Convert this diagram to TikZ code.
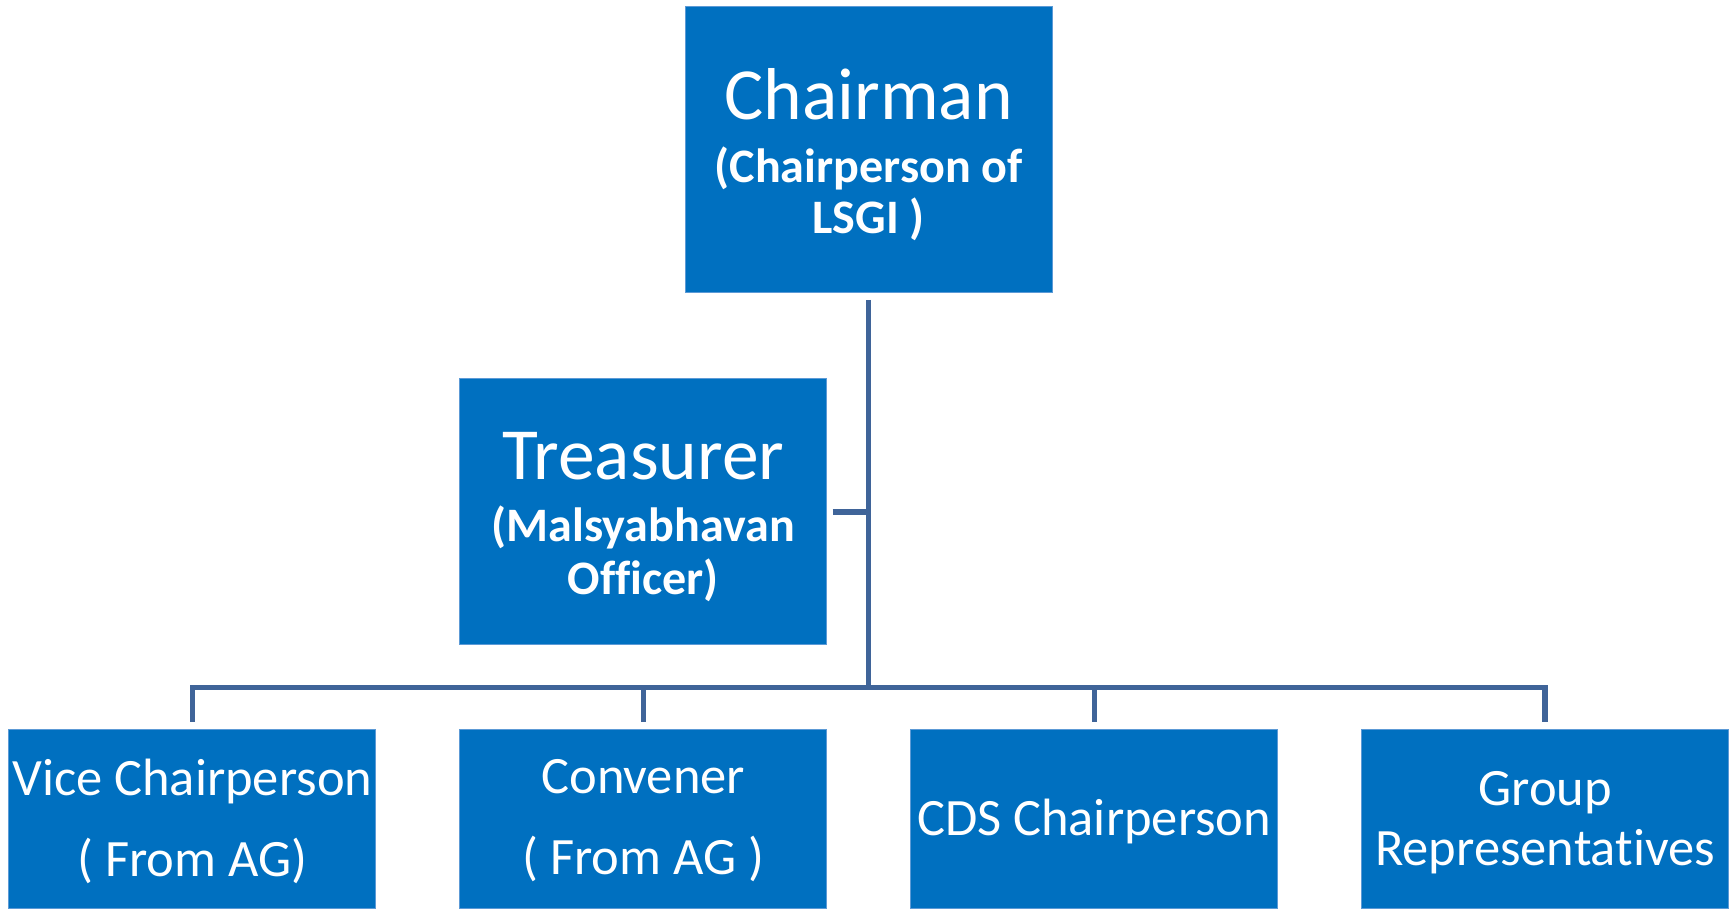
\documentclass[tikz,border=0pt]{standalone}
\usepackage{fontspec}
\setmainfont{Carlito}[Ligatures=CommonOff]
\definecolor{boxblue}{HTML}{0070C0}
\definecolor{linkblue}{HTML}{3F6499}
\definecolor{edgeblue}{HTML}{5C9AD6}
\newcommand{\subln}[1]{{\fontsize{43.5}{45}\selectfont\bfseries #1}}
\begin{document}
\begin{tikzpicture}[x=1pt,y=-1pt,
  orgbox/.style={rectangle,fill=boxblue,draw=edgeblue,line width=0.8pt,
    text=white,inner sep=0pt,align=center,minimum width=332pt},
  conn/.style={draw=linkblue,line width=4.8pt},
  title/.style={font=\fontsize{66.5}{54}\selectfont},
  lower/.style={font=\fontsize{47.5}{54}\selectfont}]
\useasboundingbox (0,0) rectangle (1568,822);
\node[orgbox,minimum height=259pt,title] (chair) at (786,135.5)
  {\rule{0pt}{54.5pt}Chairman\\[3pt]\subln{(Chairperson of}\\[-8pt]\subln{LSGI )}};
\node[orgbox,minimum height=241pt,title] (treas) at (582,462.5)
  {\rule{0pt}{54pt}Treasurer\\[2pt]\subln{(Malsyabhavan}\\[-6pt]\subln{Officer)}};
\node[orgbox,minimum height=162pt,lower] (vice) at (174,741) {\rule{0pt}{37.3pt}Vice Chairperson\\[19pt]( From AG)};
\node[orgbox,minimum height=162pt,lower] (conv) at (582,741) {\rule{0pt}{34pt}Convener\\[19pt]( From AG )};
\node[orgbox,minimum height=162pt,lower] (cds) at (990,741) {\rule{0pt}{37.3pt}CDS Chairperson};
\node[orgbox,minimum height=162pt,lower] (grp) at (1398,741) {\rule{0pt}{38pt}Group\\Representatives};
\coordinate (j) at (786,622);
\coordinate (tj) at (786,463);
\draw[conn] ([yshift=-6pt]chair.south) -- (j);
\draw[conn,line width=5.5pt] ([xshift=5pt]treas.east |- tj) -- (tj);
\draw[conn,line cap=rect] (vice.north |- j) -- (grp.north |- j);
\draw[conn] (vice.north |- j) -- ([yshift=6pt]vice.north);
\draw[conn] (conv.north |- j) -- ([yshift=6pt]conv.north);
\draw[conn] (cds.north |- j) -- ([yshift=6pt]cds.north);
\draw[conn] (grp.north |- j) -- ([yshift=6pt]grp.north);
\end{tikzpicture}
\end{document}
